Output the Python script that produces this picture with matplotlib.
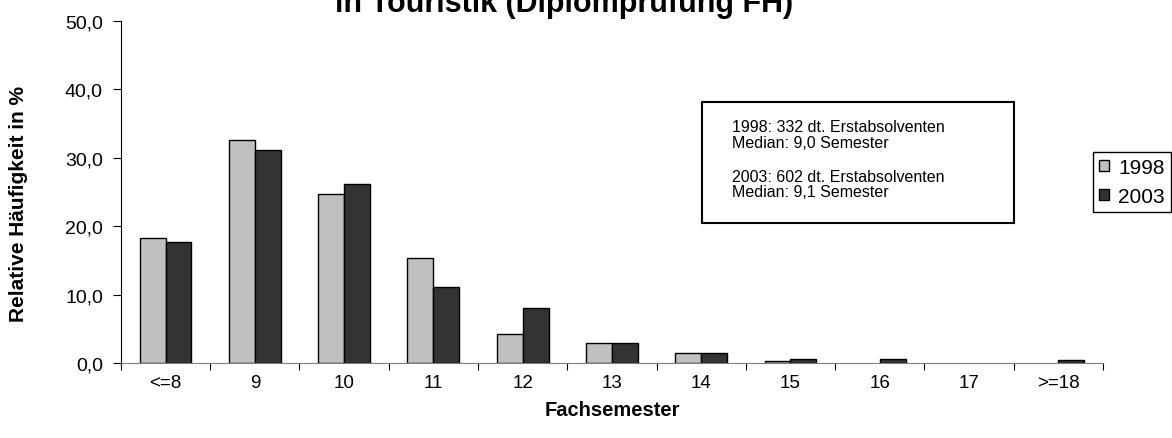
import numpy as np
import matplotlib
matplotlib.use("Agg")
import matplotlib.pyplot as plt
from matplotlib.patches import Patch, Rectangle
from matplotlib.ticker import FuncFormatter

plt.rcParams['font.family'] = ['Liberation Sans', 'DejaVu Sans']

# Daten
semester = ['<=8', '9', '10', '11', '12', '13', '14', '15', '16', '17', '>=18']
werte_1998 = [18.3, 32.5, 24.7, 15.4, 4.3, 2.9, 1.5, 0.3, 0.0, 0.0, 0.0]
werte_2003 = [17.7, 31.1, 26.1, 11.1, 8.0, 2.9, 1.5, 0.6, 0.6, 0.0, 0.5]

COL_1998 = '#c0c0c0'
COL_2003 = '#333333'

fig = plt.figure(figsize=(11.72, 4.39), dpi=100)
ax = fig.add_axes([0.1032, 0.1708, 0.8378, 0.7802])

x = np.arange(len(semester)) + 0.5
bw = 0.29
# Balken mit Wert 0 ohne Rand (wie im Original)
lw98 = [1.0 if v > 0 else 0 for v in werte_1998]
lw03 = [1.0 if v > 0 else 0 for v in werte_2003]
ax.bar(x - bw / 2, werte_1998, bw, color=COL_1998, edgecolor='black', linewidth=lw98, label='1998')
ax.bar(x + bw / 2, werte_2003, bw, color=COL_2003, edgecolor='black', linewidth=lw03, label='2003')

ax.set_xlim(0, len(semester))
ax.set_ylim(0, 50)
ax.set_yticks([0, 10, 20, 30, 40, 50])
ax.yaxis.set_major_formatter(FuncFormatter(lambda v, p: f'{v:.1f}'.replace('.', ',')))

# Striche an den Kategoriegrenzen, Beschriftung in der Mitte
ax.set_xticks(np.arange(len(semester) + 1))
ax.set_xticklabels([])
ax.set_xticks(x, minor=True)
ax.set_xticklabels(semester, minor=True)
ax.tick_params(axis='x', which='minor', length=0, pad=8, labelsize=13.5)
ax.tick_params(axis='x', which='major', length=5, direction='out', color='black')
ax.tick_params(axis='y', length=6, direction='out', labelsize=14, pad=7)

for s in ['top', 'right']:
    ax.spines[s].set_visible(False)
ax.spines['left'].set_color('black')
ax.spines['bottom'].set_color('#808080')

ax.set_xlabel('Fachsemester', fontsize=14.5, fontweight='bold')
ax.xaxis.set_label_coords(0.5, -0.108)
ax.set_ylabel('Relative Häufigkeit in %', fontsize=15, fontweight='bold')
ax.yaxis.set_label_coords(-0.095, 0.467)

fig.text(0.481, 0.9727, 'in Touristik (Diplomprüfung FH)', ha='center', va='baseline',
         fontsize=22, fontweight='bold')

# Infobox
fig.add_artist(Rectangle((702 / 1172, 1 - 224 / 439), 312 / 1172, 121 / 439,
                         transform=fig.transFigure, facecolor='white', edgecolor='black', linewidth=1.5))
info = [(128, '1998: 332 dt. Erstabsolventen'), (143, 'Median: 9,0 Semester'),
        (178, '2003: 602 dt. Erstabsolventen'), (193, 'Median: 9,1 Semester')]
for yy, t in info:
    fig.text(732 / 1172, 1 - yy / 439, t, ha='left', va='center', fontsize=11.5)

handles = [Patch(facecolor=COL_1998, edgecolor='black'), Patch(facecolor=COL_2003, edgecolor='black')]
leg = fig.legend(handles, ['1998', '2003'], loc='upper right',
                 bbox_to_anchor=(1171 / 1172, 1 - 153 / 439), fontsize=15,
                 handlelength=0.45, handleheight=0.45, handletextpad=0.45,
                 borderpad=0.3, labelspacing=0.45, fancybox=False, framealpha=1,
                 edgecolor='black', borderaxespad=0)
leg.get_frame().set_linewidth(1.0)

fig.savefig('out.png', dpi=100)
